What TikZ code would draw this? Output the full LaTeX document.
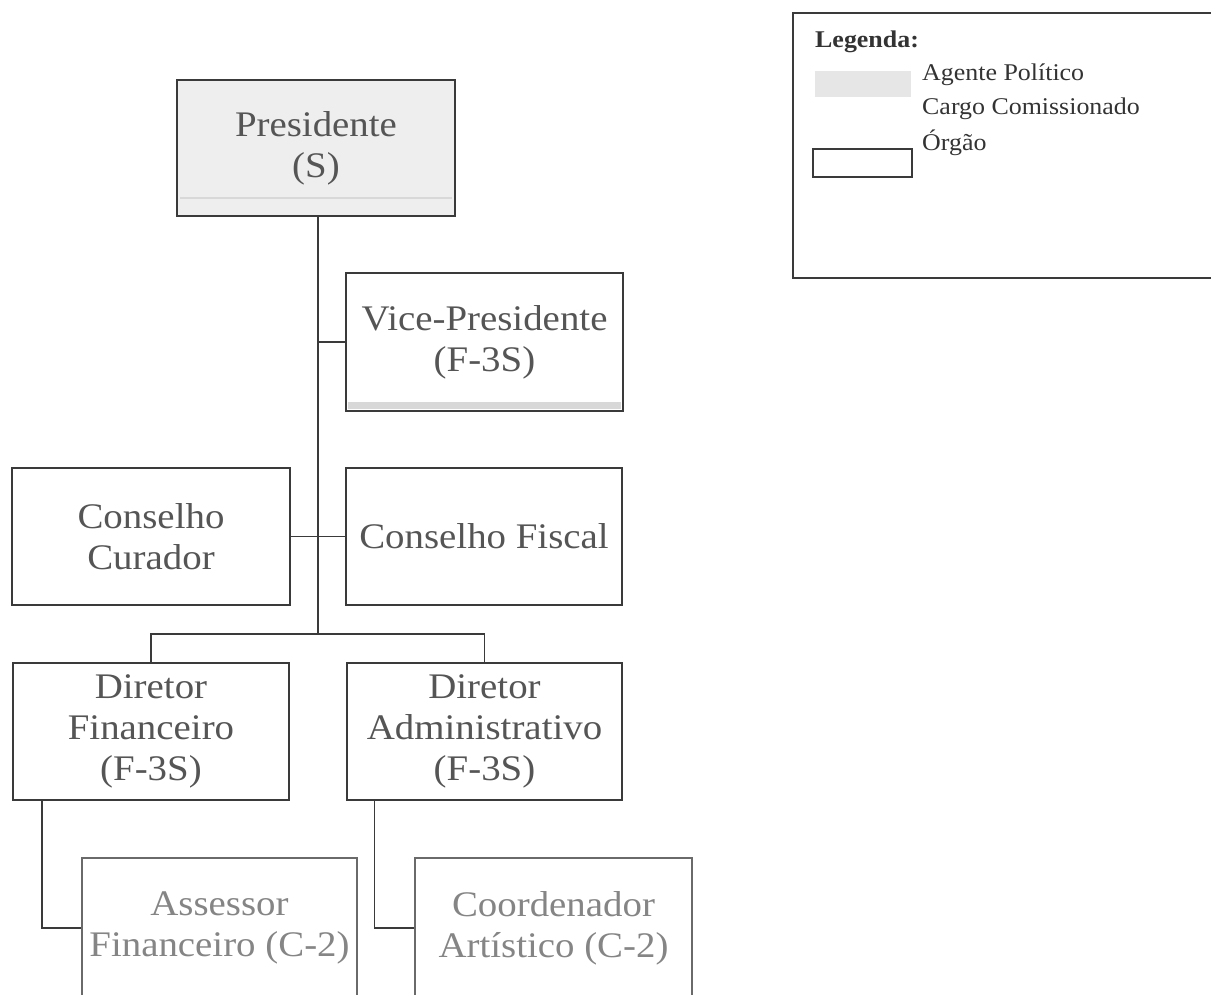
\documentclass[tikz,border=0pt]{standalone}
\usepackage{fontspec}
\setmainfont{Liberation Serif}[FakeStretch=1.08]
\definecolor{linec}{HTML}{3A3A3A}
\definecolor{lightline}{HTML}{6A6A6A}
\definecolor{txt}{HTML}{555555}
\definecolor{lighttxt}{HTML}{858585}
\definecolor{presfill}{HTML}{EEEEEE}
\definecolor{swatch}{HTML}{E6E6E6}
\definecolor{legtxt}{HTML}{333333}
\definecolor{band}{HTML}{D8D8D8}
\tikzset{
  box/.style={draw=linec, line width=1.8pt, text=txt, align=center, inner sep=0pt,
    font=\fontsize{36}{41}\selectfont},
  cbox/.style={box, draw=lightline, text=lighttxt},
  conn/.style={draw=linec, line width=1.8pt},
  legtext/.style={anchor=base west, inner sep=0pt, text=legtxt, font=\fontsize{24}{28}\selectfont}
}
\begin{document}
\begin{tikzpicture}[x=1pt,y=-1pt]
\useasboundingbox (0,0) rectangle (1211,994);
\clip (0,0) rectangle (1211,994);
% boxes
\node[box, fill=presfill, minimum width=278, minimum height=136] (pres) at (316,148) {Presidente\\(S)};
\draw[band, line width=2pt] (180,198) -- (452,198);
\node[box, minimum width=277, minimum height=138] (vice) at (484.5,342) {Vice-Presidente\\(F-3S)};
\fill[band] (348,402) rectangle (621,409);
\node[box, minimum width=278, minimum height=137] (curador) at (151,536.5) {Conselho\\Curador};
\node[box, minimum width=276, minimum height=137] (fiscal) at (484,536.5) {Conselho Fiscal};
\node[box, minimum width=276, minimum height=137] (dfin) at (151,731.5) {Diretor\\Financeiro\\(F-3S)};
\node[box, minimum width=275, minimum height=137] (dadm) at (484.5,731.5) {Diretor\\Administrativo\\(F-3S)};
\node[cbox, minimum width=275, minimum height=140] (assessor) at (219.5,928) {Assessor\\Financeiro (C-2)};
\node[cbox, minimum width=277, minimum height=140] (coord) at (553.5,928) {Coordenador\\Artístico (C-2)};
% connectors
\coordinate (bus) at (318,634);
\draw[conn] (pres.south -| bus) -- (bus);
\draw[conn] (vice.west) -- (vice.west -| bus);
\draw[conn] (curador.east) -- (fiscal.west);
\draw[conn] (dfin.north) |- (bus) -| (dadm.north);
\draw[conn] ([xshift=-109pt]dfin.south) |- (assessor.west);
\draw[conn] ([xshift=-110pt]dadm.south) |- (coord.west);
% legend
\node[draw=linec, line width=1.6pt, minimum width=424, minimum height=265, inner sep=0pt] (legend) at (1005,145.5) {};
\node[legtext, font=\fontsize{24}{28}\selectfont\bfseries] (legtitle) at (815,47) {Legenda:};
\node[fill=swatch, minimum width=96, minimum height=26, inner sep=0pt] (swpol) at (863,84) {};
\node[legtext] (lpol) at (922,80) {Agente Político};
\node[legtext] (lcom) at (922,114) {Cargo Comissionado};
\node[legtext] (lorg) at (922,150) {Órgão};
\node[draw=linec, line width=1.5pt, minimum width=99, minimum height=28, inner sep=0pt] (sworg) at (862.5,163) {};
\end{tikzpicture}
\end{document}
